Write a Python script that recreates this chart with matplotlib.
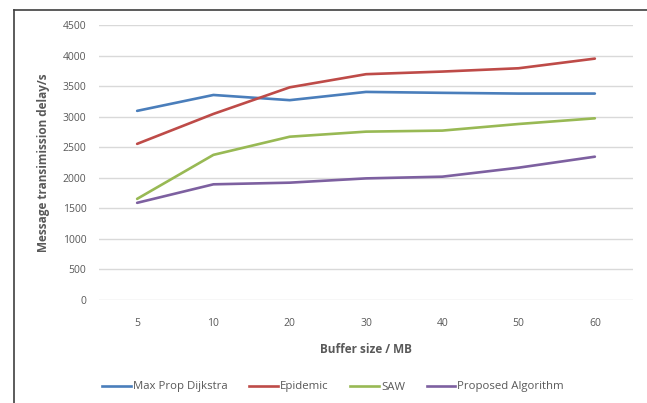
import matplotlib.pyplot as plt
from matplotlib.lines import Line2D

# Buffer size categories (MB) and delay per routing scheme (s)
buffer_sizes = ["5", "10", "20", "30", "40", "50", "60"]
max_prop = [3095, 3355, 3270, 3405, 3390, 3378, 3378]
epidemic = [2555, 3045, 3480, 3695, 3738, 3792, 3950]
saw = [1655, 2375, 2672, 2755, 2772, 2880, 2973]
proposed = [1590, 1893, 1920, 1990, 2018, 2165, 2345]

series = [
    ("Max Prop Dijkstra", max_prop, "#4a7ebb"),
    ("Epidemic", epidemic, "#be4b48"),
    ("SAW", saw, "#98b954"),
    ("Proposed Algorithm", proposed, "#7d60a0"),
]

plt.rcParams["font.family"] = ["Open Sans", "DejaVu Sans"]
text_col = "#595959"

fig = plt.figure(figsize=(6.47, 4.03), dpi=100)
ax = fig.add_axes([99 / 647, 1 - 300 / 403, 534 / 647, 275 / 403])

xs = range(len(buffer_sizes))
for name, vals, col in series:
    ax.plot(xs, vals, color=col, lw=1.9, label=name, solid_capstyle="round")

ax.set_xlim(-0.5, len(buffer_sizes) - 0.5)
ax.set_ylim(0, 4500)
ax.set_yticks(range(0, 4501, 500))
ax.set_xticks(list(xs))
ax.set_xticklabels(buffer_sizes)
ax.grid(axis="y", color="#d9d9d9", lw=1)
ax.set_axisbelow(True)
for s in ax.spines.values():
    s.set_visible(False)
ax.tick_params(length=0, labelsize=7.5, colors=text_col, pad=9)
ax.tick_params(axis="x", pad=13)

ax.set_xlabel("Buffer size / MB", fontsize=8.5, fontweight="bold", color=text_col, labelpad=10)
ax.set_ylabel("Message transimission delay/s", fontsize=8.5, fontweight="bold", color=text_col, labelpad=9)

handles = [Line2D([], [], color=c, lw=1.9) for _, _, c in series]
fig.legend(handles, [n for n, _, _ in series], loc="center", bbox_to_anchor=(0.515, 1 - 387 / 403),
           ncol=4, frameon=False, fontsize=8.2, labelcolor=text_col, handlelength=2.5,
           handletextpad=0.2, columnspacing=1.9)

# outer chart border (top and left edges)
fig.add_artist(Line2D([14 / 647, 14 / 647], [0, 1 - 10 / 403], color="#404040", lw=1.2,
                      transform=fig.transFigure))
fig.add_artist(Line2D([14 / 647, 1], [1 - 10 / 403, 1 - 10 / 403], color="#404040", lw=1.2,
                      transform=fig.transFigure))

fig.savefig("out.png", dpi=100)
